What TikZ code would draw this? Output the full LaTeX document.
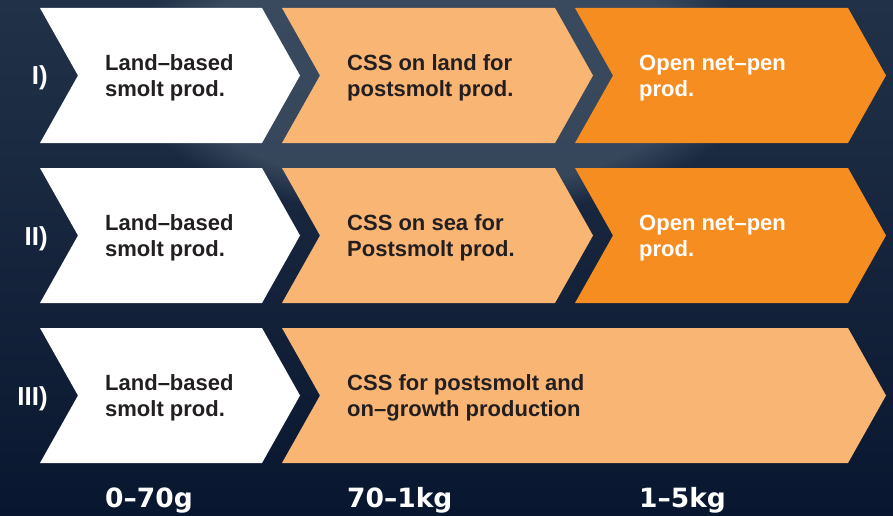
\documentclass[tikz,border=0pt]{standalone}
\usepackage{fontspec}
\setmainfont{Liberation Sans}
\newfontfamily\weightfont{DejaVu Sans}
\usetikzlibrary{positioning,fadings}

\definecolor{navytop}{HTML}{213248}
\definecolor{navybot}{HTML}{09162F}
\definecolor{navyglow}{HTML}{4A5A6E}
\definecolor{paleorange}{HTML}{F9B574}
\definecolor{deeporange}{HTML}{F68D20}
\definecolor{inkdark}{HTML}{231F20}

\begin{document}
\begin{tikzpicture}[
    x = 1pt, y = -1pt, % pixel coordinates, y going down
    chev/.style = {fill=#1},
    boxtext/.style = {anchor=west, align=left, font=\fontsize{22}{26}\selectfont\bfseries, text=inkdark, inner sep=0pt},
    boxtextw/.style = {boxtext, text=white},
    rowlabel/.style = {anchor=base east, font=\fontsize{26}{30}\selectfont\bfseries, text=white, inner sep=0pt},
    weight/.style = {anchor=base west, font=\weightfont\fontsize{26.5}{30}\selectfont\bfseries, text=white, inner sep=0pt}
    ]
    \useasboundingbox (0,0) rectangle (893,516);
    \shade[top color=navytop, bottom color=navybot] (0,0) rectangle (893,516);
    \fill[navyglow, path fading=circle with fuzzy edge 20 percent, opacity=0.6] (440,70) ellipse (320 and 150);

    % row I
    \fill[chev=white] (40,8) -- (262,8) -- ++(38,67.5) -- (262,143) -- (40,143) -- ++(38,-67.5) -- cycle;
    \fill[chev=paleorange] (282,8) -- (555,8) -- ++(38,67.5) -- (555,143) -- (282,143) -- ++(38,-67.5) -- cycle;
    \fill[chev=deeporange] (575,8) -- (848,8) -- ++(38,67.5) -- (848,143) -- (575,143) -- ++(38,-67.5) -- cycle;
    % row II
    \fill[chev=white] (40,168) -- (262,168) -- ++(38,67.5) -- (262,303) -- (40,303) -- ++(38,-67.5) -- cycle;
    \fill[chev=paleorange] (282,168) -- (555,168) -- ++(38,67.5) -- (555,303) -- (282,303) -- ++(38,-67.5) -- cycle;
    \fill[chev=deeporange] (575,168) -- (848,168) -- ++(38,67.5) -- (848,303) -- (575,303) -- ++(38,-67.5) -- cycle;
    % row III
    \fill[chev=white] (40,328) -- (262,328) -- ++(38,67.5) -- (262,463) -- (40,463) -- ++(38,-67.5) -- cycle;
    \fill[chev=paleorange] (282,328) -- (848,328) -- ++(38,67.5) -- (848,463) -- (282,463) -- ++(38,-67.5) -- cycle;

    \node[rowlabel] (r1) at (48,85) {I)};
    \node[rowlabel] (r2) at (48,245) {II)};
    \node[rowlabel] (r3) at (48,405) {III)};

    \node[boxtext] (a1) at (105,78) {Land–based\\smolt prod.};
    \node[boxtext] (b1) at (347,78) {CSS on land for\\postsmolt prod.};
    \node[boxtextw] (c1) at (639,78) {Open net–pen\\prod.};

    \node[boxtext] (a2) at (105,238) {Land–based\\smolt prod.};
    \node[boxtext] (b2) at (347,238) {CSS on sea for\\Postsmolt prod.};
    \node[boxtextw] (c2) at (639,238) {Open net–pen\\prod.};

    \node[boxtext] (a3) at (105,398) {Land–based\\smolt prod.};
    \node[boxtext] (b3) at (347,398) {CSS for postsmolt and\\on–growth production};

    \node[weight] (w1) at (105,507) {0–70g};
    \node[weight] (w2) at (347,507) {70–1kg};
    \node[weight] (w3) at (639,507) {1–5kg};
\end{tikzpicture}
\end{document}
